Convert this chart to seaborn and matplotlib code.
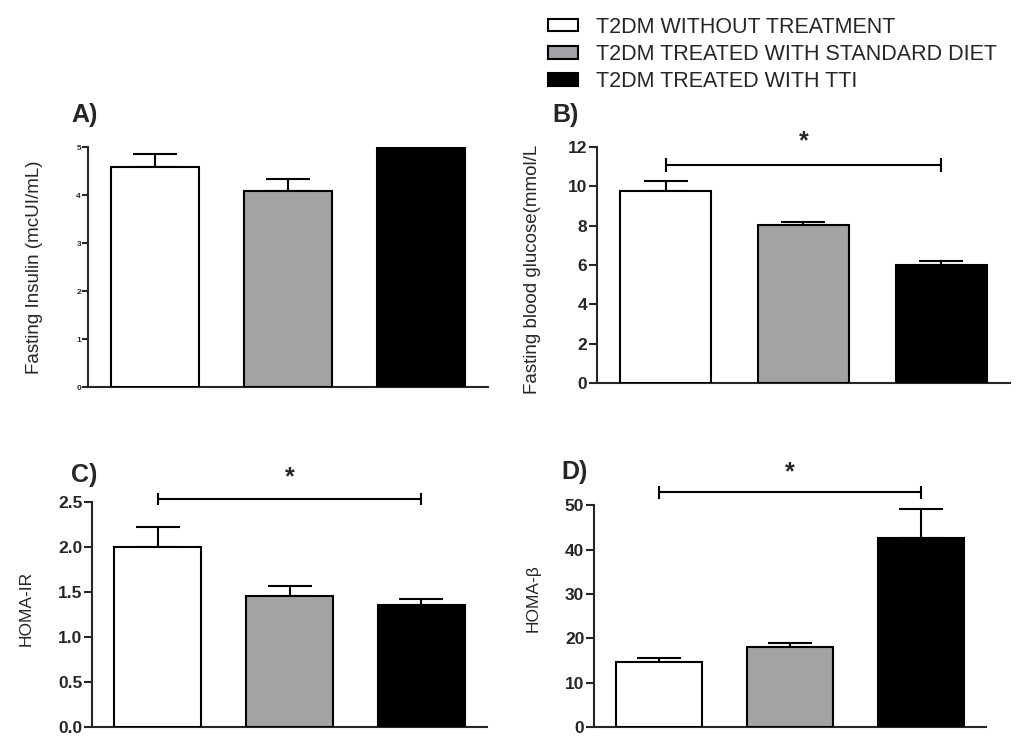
import matplotlib
matplotlib.use('Agg')
import matplotlib.pyplot as plt
import matplotlib.patches as mpatches
import pandas as pd
import numpy as np
import seaborn as sns

# grupos e cores
grupos = ['T2DM WITHOUT TREATMENT', 'T2DM TREATED WITH STANDARD DIET', 'T2DM TREATED WITH TTI']
cores = ['#ffffff', '#a3a3a7', '#000000']

# valores (media e erro padrao)
insulina_media = [4.58, 4.08, 5.0]
insulina_sem = [0.28, 0.25, 0.0]
glicose_media = [9.75, 8.02, 6.0]
glicose_sem = [0.50, 0.18, 0.20]
homa_ir_media = [2.0, 1.46, 1.36]
homa_ir_sem = [0.22, 0.11, 0.06]
homa_b_media = [14.8, 18.0, 42.5]
homa_b_sem = [0.9, 0.9, 6.6]

sns.set_style('ticks')
plt.rcParams['font.family'] = ['Liberation Sans', 'DejaVu Sans']
plt.rcParams['axes.linewidth'] = 1.5

fig = plt.figure(figsize=(10.33, 7.38), dpi=100)


def painel(pos, media, sem, ylim, passo, ylabel, letra, letra_xy, tick_fs, label_fs,
           fmt=None, tick_len=6, sig=None):
    ax = fig.add_axes(pos)
    df = pd.DataFrame({'grupo': grupos, 'valor': media})
    sns.barplot(data=df, x='grupo', y='valor', hue='grupo', palette=cores,
                edgecolor='black', linewidth=1.5, width=0.66, errorbar=None,
                legend=False, ax=ax, zorder=3)
    ax.errorbar(range(len(media)), media, yerr=[np.zeros(len(sem)), sem], fmt='none',
                ecolor='black', elinewidth=1.5, capsize=16, capthick=1.5, zorder=2)
    ax.set_xlim(-0.5, 2.5)
    ax.set_ylim(*ylim)
    ax.set_yticks(np.arange(ylim[0], ylim[1] + passo / 2, passo))
    if fmt:
        ax.set_yticklabels([fmt % v for v in ax.get_yticks()])
    ax.set_xticks([])
    ax.set_xlabel('')
    ax.set_ylabel(ylabel, fontsize=label_fs)
    ax.tick_params(axis='y', labelsize=tick_fs, width=1.5, length=tick_len, pad=1)
    for t in ax.get_yticklabels():
        t.set_fontweight('bold')
    sns.despine(ax=ax)
    ax.spines['left'].set_bounds(*ylim)
    fig.text(letra_xy[0], letra_xy[1], letra, fontsize=18, fontweight='bold',
             ha='left', va='center')
    if sig is not None:
        y, dy, ys = sig
        ax.plot([0, 2], [y, y], color='black', lw=1.5, clip_on=False)
        ax.vlines([0, 2], y - dy, y + dy, color='black', lw=1.5, clip_on=False)
        ax.text(1, ys, '*', fontsize=18, fontweight='bold', ha='center', va='center')
    return ax


axA = painel([0.0852, 0.4756, 0.3872, 0.3252], insulina_media, insulina_sem, (0, 5), 1,
             'Fasting Insulin (mcUI/mL)', 'A)', (0.069, 1 - 115 / 738), 6, 13.5, tick_len=4)
axA.yaxis.set_label_coords(-0.112, 0.5)

axB = painel([0.5779, 0.481, 0.3998, 0.3198], glicose_media, glicose_sem, (0, 12), 2,
             'Fasting blood glucose(mmol/L', 'B)', (0.535, 1 - 115 / 738), 12.5, 13.5,
             sig=(11.08, 0.35, 12.3))
axB.yaxis.set_label_coords(-0.136, 0.48)

axC = painel([0.0891, 0.0145, 0.3824, 0.3049], homa_ir_media, homa_ir_sem, (0, 2.5), 0.5,
             'HOMA-IR', 'C)', (0.069, 1 - 475 / 738), 12.5, 12.5, fmt='%.1f',
             sig=(2.537, 0.07, 2.78))
axC.yaxis.set_label_coords(-0.149, 0.53)

axD = painel([0.575, 0.0145, 0.3795, 0.3010], homa_b_media, homa_b_sem, (0, 50), 10,
             'HOMA-β', 'D)', (0.543, 1 - 472 / 738), 12.5, 12.5,
             sig=(52.9, 1.5, 57.3))
axD.yaxis.set_label_coords(-0.135, 0.58)

handles = [mpatches.Patch(facecolor=c, edgecolor='black', linewidth=1.5, label=g)
           for c, g in zip(cores, grupos)]
fig.legend(handles=handles, loc='upper left', bbox_to_anchor=(548 / 1033, 1 - 17 / 738),
           frameon=False, fontsize=15.5, handlelength=1.4, handleheight=0.5,
           handletextpad=0.85, labelspacing=0.28, borderpad=0, borderaxespad=0)

fig.savefig('out.png', dpi=100)
